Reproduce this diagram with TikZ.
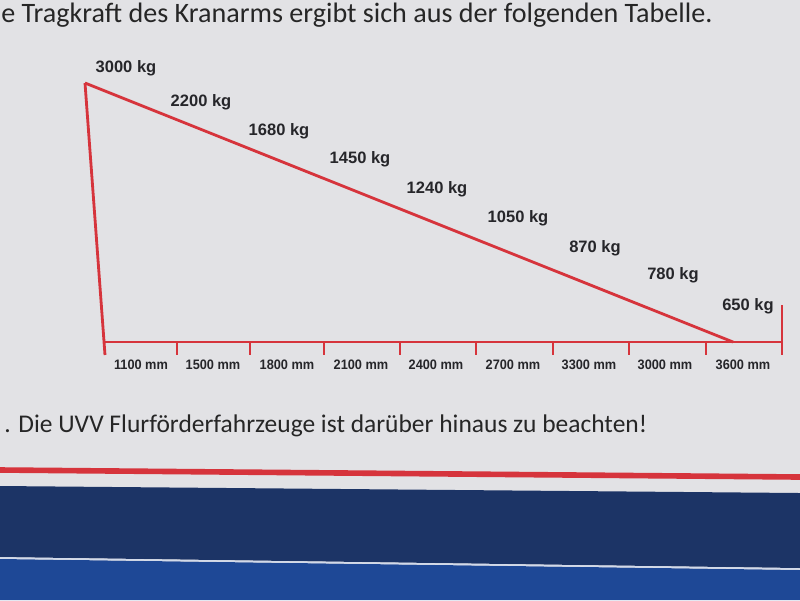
\documentclass[tikz,border=0pt]{standalone}
\usepackage{fontspec}
\setmainfont{Carlito}
\newfontfamily\labelfont{Liberation Sans}
\usepackage{tikz}
\usetikzlibrary{positioning}

\definecolor{paper}{RGB}{226,226,229}
\definecolor{armred}{RGB}{214,52,60}
\definecolor{ink}{RGB}{38,38,42}
\definecolor{navy}{RGB}{28,52,102}
\definecolor{signblue}{RGB}{30,72,150}

\begin{document}
\begin{tikzpicture}[x=0.02cm,y=-0.02cm,
  arm/.style={draw=armred, line width=1.6pt},
  kglabel/.style={font=\labelfont\bfseries\fontsize{9.4}{11}\selectfont, text=ink, inner sep=0pt},
  mmlabel/.style={font=\labelfont\bfseries\fontsize{7.8}{9}\selectfont, text=ink, inner sep=0pt, xscale=0.93},
  signtext/.style={text=black!85, inner sep=0pt, anchor=base west}]
\useasboundingbox (0,0) rectangle (800,600);
% sign background and bands
\fill[paper] (0,0) rectangle (800,600);
\fill[navy] (0,486) -- (800,493) -- (800,568) -- (0,557) -- cycle;
\fill[signblue] (0,559) -- (800,570) -- (800,600) -- (0,600) -- cycle;
\draw[white!80!signblue, line width=0.8pt] (0,558) -- (800,569);
\draw[armred, line width=3.2pt] (0,470) -- (800,477);
% texts
\node[signtext, font=\fontsize{16}{18}\selectfont] (head) at (1,22) {e Tragkraft des Kranarms ergibt sich aus der folgenden Tabelle.};
\node[signtext, font=\fontsize{14.5}{16}\selectfont] (note) at (4,432) {. Die UVV Flurförderfahrzeuge ist darüber hinaus zu beachten!};
% triangle
\coordinate (top) at (85,83);
\coordinate (foot) at (105,355);
\coordinate (axisL) at (104,342);
\coordinate (axisR) at (782,342);
\coordinate (tip) at (733,342);
\coordinate (endU) at (782,305);
\coordinate (endD) at (782,355);
\draw[arm] (top) -- (foot);
\draw[arm] (top) -- (tip);
\draw[arm] (axisL) -- (axisR);
\draw[arm] (endU) -- (endD);
\foreach \x in {177,250,324,400,476,553,629,706}
  \draw[arm] (\x,342) -- (\x,355);
% loads
\foreach \x/\y/\t in {126/68/3000, 201/102/2200, 279/131/1680, 360/159/1450,
  437/189/1240, 518/218/1050, 595/248/870, 673/275/780, 748/306/650}
  \node[kglabel] (kg\t) at (\x,\y) {\t\ kg};
% distances
\foreach \x/\t [count=\i] in {141/1100, 213/1500, 287/1800, 361/2100, 436/2400,
  513/2700, 589/3300, 665/3000, 743/3600}
  \node[mmlabel] (mm\i) at (\x,365) {\t\ mm};
\end{tikzpicture}
\end{document}
